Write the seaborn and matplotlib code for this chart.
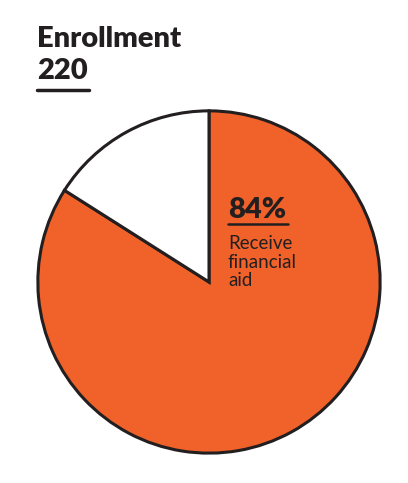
import matplotlib
matplotlib.use("Agg")
import matplotlib.pyplot as plt
import seaborn as sns

labels = ["Receive financial aid", "Other"]
shares = [84, 16]
colors = ["#F0622A", "#FFFFFF"]
title = "Enrollment"
total = "220"

sns.set_style("white")
plt.rcParams["font.family"] = ["Lato", "DejaVu Sans"]

W, H = 408, 483
fig = plt.figure(figsize=(W / 100, H / 100), dpi=100)

cx, cy, r = 209, 282, 172
ax = fig.add_axes([(cx - r) / W, (H - cy - r) / H, 2 * r / W, 2 * r / H])
ax.pie(shares, colors=colors, startangle=90, counterclock=False,
       wedgeprops=dict(edgecolor="#231F20", linewidth=2.2))
ax.set_xlim(-1.005, 1.005)
ax.set_ylim(-1.005, 1.005)
ax.set_aspect("equal")
ax.axis("off")

dark = "#231F20"
fig.text(37 / W, 1 - 47 / H, title, fontsize=21, fontweight="heavy", color=dark)
fig.text(37 / W, 1 - 79 / H, total, fontsize=21, fontweight="heavy", color=dark)
fig.add_artist(plt.Line2D([37 / W, 89 / W], [1 - 90 / H, 1 - 90 / H], color=dark, lw=2.5))

fig.text(228 / W, 1 - 218 / H, f"{shares[0]}%", fontsize=21, fontweight="heavy", color=dark)
fig.add_artist(plt.Line2D([228 / W, 288 / W], [1 - 224 / H, 1 - 224 / H], color=dark, lw=1.8))
fig.text(228 / W, 1 - 235 / H, "Receive\nfinancial\naid", fontsize=13.5, color=dark,
         va="top", linespacing=1.12)

fig.savefig("out.png", dpi=100)
